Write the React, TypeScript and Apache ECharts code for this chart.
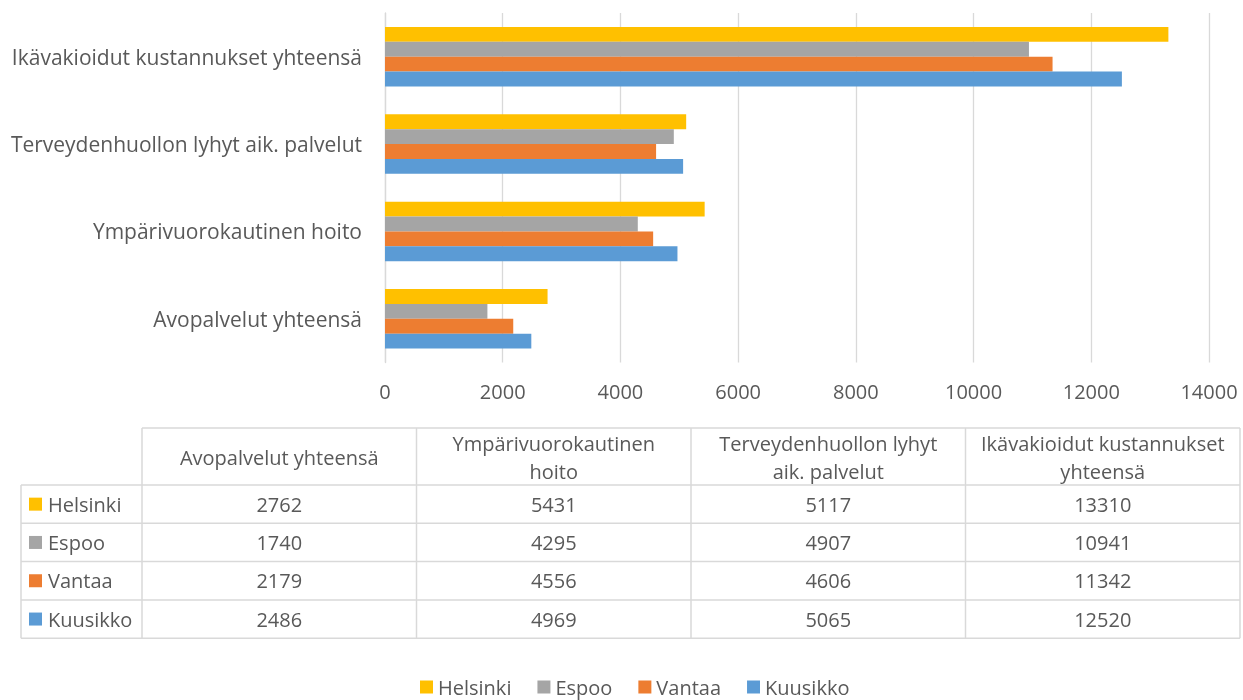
import React, { useEffect, useRef } from "react";
import * as echarts from "echarts";

// Categories, bottom to top on the chart, left to right in the table
const categories = [
  "Avopalvelut yhteensä",
  "Ympärivuorokautinen hoito",
  "Terveydenhuollon lyhyt aik. palvelut",
  "Ikävakioidut kustannukset yhteensä",
];
const tableHeaders = [
  "Avopalvelut yhteensä",
  "Ympärivuorokautinen\nhoito",
  "Terveydenhuollon lyhyt\naik. palvelut",
  "Ikävakioidut kustannukset\nyhteensä",
];
const seriesNames = ["Helsinki", "Espoo", "Vantaa", "Kuusikko"];
const helsinki = [2762, 5431, 5117, 13310];
const espoo = [1740, 4295, 4907, 10941];
const vantaa = [2179, 4556, 4606, 11342];
const kuusikko = [2486, 4969, 5065, 12520];
const xTicks = [0, 2000, 4000, 6000, 8000, 10000, 12000, 14000];

const seriesValues = [helsinki, espoo, vantaa, kuusikko];
const colors = ["#FFC000", "#A5A5A5", "#ED7D31", "#5B9BD5"];

const FONT = "'Open Sans', 'Noto Sans', sans-serif";
const TXT = "#595959";
const LINE = "#D9D9D9";

export default function App() {
  const ref = useRef<HTMLDivElement>(null);
  useEffect(() => {
    if (!ref.current) return;
    const chart = echarts.init(ref.current, null, { renderer: "svg" });

    // table geometry
    const tLeft = 21;
    const hLeft = 142;
    const tRight = 1240;
    const colW = (tRight - hLeft) / 4;
    const headTop = 428;
    const rowTop = 485;
    const rowH = 38.3;
    const lw = 1.5;

    const graphics: any[] = [];
    graphics.push({
      type: "line",
      shape: { x1: hLeft, y1: headTop, x2: tRight, y2: headTop },
      style: { stroke: LINE, lineWidth: lw },
    });
    for (let i = 0; i <= seriesNames.length; i++) {
      const y = rowTop + i * rowH;
      graphics.push({
        type: "line",
        shape: { x1: tLeft, y1: y, x2: tRight, y2: y },
        style: { stroke: LINE, lineWidth: lw },
      });
    }
    const bottom = rowTop + seriesNames.length * rowH;
    graphics.push({
      type: "line",
      shape: { x1: tLeft, y1: rowTop, x2: tLeft, y2: bottom },
      style: { stroke: LINE, lineWidth: lw },
    });
    for (let c = 0; c <= categories.length; c++) {
      const x = hLeft + c * colW;
      graphics.push({
        type: "line",
        shape: { x1: x, y1: headTop, x2: x, y2: bottom },
        style: { stroke: LINE, lineWidth: lw },
      });
    }
    tableHeaders.forEach((h, c) => {
      graphics.push({
        type: "text",
        x: hLeft + (c + 0.5) * colW,
        y: (headTop + rowTop) / 2 + 1,
        style: {
          text: h,
          fill: TXT,
          fontSize: 20,
          fontFamily: FONT,
          lineHeight: 28,
          align: "center",
          verticalAlign: "middle",
        },
      });
    });
    seriesNames.forEach((name, r) => {
      const cy = rowTop + (r + 0.5) * rowH;
      graphics.push({
        type: "rect",
        shape: { x: 29, y: cy - 6.5, width: 13, height: 13 },
        style: { fill: colors[r] },
      });
      graphics.push({
        type: "text",
        x: 48,
        y: cy,
        style: {
          text: name,
          fill: TXT,
          fontSize: 20,
          fontFamily: FONT,
          align: "left",
          verticalAlign: "middle",
        },
      });
      seriesValues[r].forEach((v, c) => {
        graphics.push({
          type: "text",
          x: hLeft + (c + 0.5) * colW,
          y: cy,
          style: {
            text: String(v),
            fill: TXT,
            fontSize: 20,
            fontFamily: FONT,
            align: "center",
            verticalAlign: "middle",
          },
        });
      });
    });

    const series = seriesNames.map((name, i) => ({
      name,
      type: "bar",
      data: seriesValues[i],
      itemStyle: { color: colors[i] },
      barCategoryGap: "32%",
      barGap: "0%",
    }));

    chart.setOption({
      animation: false,
      textStyle: { fontFamily: FONT },
      grid: { left: 385, right: 34, top: 13, bottom: 337.5, containLabel: false },
      xAxis: {
        type: "value",
        min: xTicks[0],
        max: xTicks[xTicks.length - 1],
        interval: xTicks[1] - xTicks[0],
        axisLine: { show: false },
        axisTick: { show: false },
        splitLine: { lineStyle: { color: LINE, width: 1.3 } },
        axisLabel: {
          color: TXT,
          fontSize: 20,
          fontFamily: FONT,
          margin: 19,
          formatter: (v: number) => String(v),
        },
      },
      yAxis: {
        type: "category",
        data: categories,
        axisLine: { lineStyle: { color: LINE, width: 1.3 } },
        axisTick: { show: false },
        axisLabel: { color: TXT, fontSize: 21, fontFamily: FONT, margin: 23 },
      },
      legend: {
        data: seriesNames,
        left: 420,
        top: 677,
        padding: 0,
        itemWidth: 13,
        itemHeight: 13,
        itemGap: 26,
        icon: "rect",
        textStyle: { color: TXT, fontSize: 20, lineHeight: 20, fontFamily: FONT },
      },
      series,
      graphic: graphics,
    });
    return () => chart.dispose();
  }, []);
  return (
    <div
      ref={ref}
      style={{ position: "fixed", left: 0, top: 0, width: 1243, height: 700 }}
    />
  );
}
